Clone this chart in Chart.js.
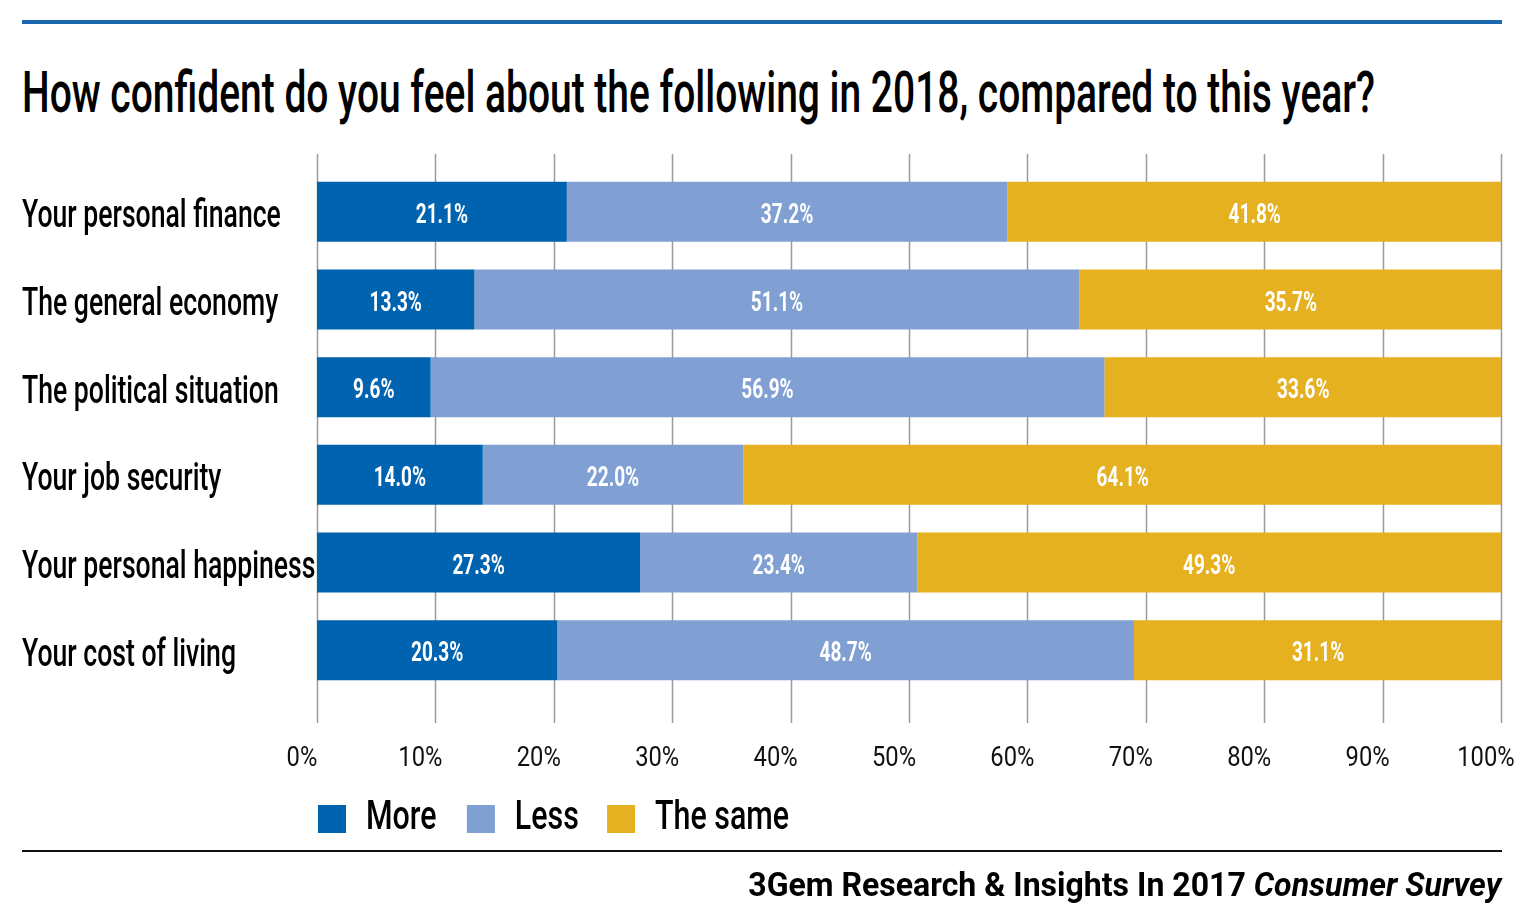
<!DOCTYPE html>
<html>
<head>
<meta charset="utf-8">
<script src="https://cdn.jsdelivr.net/npm/chart.js@4.4.1/dist/chart.umd.min.js"></script>
<style>
  html, body { margin:0; padding:0; background:#fff; }
  body { width:1535px; height:923px; position:relative; overflow:hidden; font-family: Roboto, "Liberation Sans", sans-serif; }
  #topRule { position:absolute; left:22px; top:20px; width:1480px; height:4px; background:#1a68b0; }
  #title { position:absolute; left:22px; top:63px; font-size:58px; line-height:58px; font-weight:500; color:#000; white-space:nowrap; transform-origin:0 0; }
  #bottomRule { position:absolute; left:22px; top:850px; width:1480px; height:2px; background:#111; }
  #source { position:absolute; right:34px; top:867px; font-size:34px; line-height:34px; font-weight:700; color:#000; white-space:nowrap; transform-origin:100% 0; }
  canvas { position:absolute; left:0; top:0; }
</style>
</head>
<body>
<div id="topRule"></div>
<div id="title">How confident do you feel about the following in 2018, compared to this year?</div>
<canvas id="c" width="1535" height="923"></canvas>
<div id="bottomRule"></div>
<div id="source">3Gem Research &amp; Insights In 2017 <i>Consumer Survey</i></div>
<script>
const categories = ["Your personal finance", "The general economy", "The political situation", "Your job security", "Your personal happiness", "Your cost of living"];
const seriesNames = ["More", "Less", "The same"];
const moreValues = [21.1, 13.3, 9.6, 14.0, 27.3, 20.3];
const lessValues = [37.2, 51.1, 56.9, 22.0, 23.4, 48.7];
const sameValues = [41.8, 35.7, 33.6, 64.1, 49.3, 31.1];
const xTicks = [0, 10, 20, 30, 40, 50, 60, 70, 80, 90, 100];
const colors = ["#0063af", "#809fd3", "#e5b121"];

function fitWidth(id, target) {
  const el = document.getElementById(id);
  el.style.transform = 'none';
  const w = el.getBoundingClientRect().width;
  el.style.transform = 'scaleX(' + (target / w) + ')';
}
fitWidth('title', 1353);
fitWidth('source', 753);
if (document.fonts && document.fonts.ready) document.fonts.ready.then(() => { fitWidth('title', 1353); fitWidth('source', 753); });

function condensed(ctx, factor, fn) {
  const orig = ctx.fillText;
  ctx.fillText = function (t, x, y) {
    this.save();
    this.translate(x, y);
    this.scale(factor, 1);
    orig.call(this, t, 0, 0);
    this.restore();
  };
  try { fn(); } finally { ctx.fillText = orig; }
}

const condensePlugin = {
  id: 'condense',
  afterLayout(chart) {
    const ctx = chart.ctx;
    const ys = chart.scales.y, xs = chart.scales.x;
    if (!ys._patched) {
      const o = ys.drawLabels;
      ys.drawLabels = function (a) { condensed(ctx, 0.70, () => o.call(this, a)); };
      ys._patched = true;
    }
    if (!xs._patched) {
      const o = xs.drawLabels;
      xs.drawLabels = function (a) { condensed(ctx, 0.88, () => o.call(this, a)); };
      xs._patched = true;
    }
    const lg = chart.legend;
    if (lg) {
      lg.left -= 7; lg.right -= 7;
      if (!lg._patched) {
        const o = lg.draw;
        lg.draw = function (a) { condensed(ctx, 0.76, () => o.call(this, a)); };
        lg._patched = true;
      }
    }
  }
};

const gridPlugin = {
  id: 'customGrid',
  beforeDatasetsDraw(chart) {
    const ctx = chart.ctx, xs = chart.scales.x;
    ctx.save();
    ctx.strokeStyle = '#9a9a9a';
    ctx.lineWidth = 1.5;
    xTicks.forEach(v => {
      const x = Math.round(xs.getPixelForValue(v)) + 0.5;
      ctx.beginPath();
      ctx.moveTo(x, 154);
      ctx.lineTo(x, 723);
      ctx.stroke();
    });
    ctx.restore();
  }
};

const labelPlugin = {
  id: 'barLabels',
  afterDatasetsDraw(chart) {
    const ctx = chart.ctx;
    ctx.save();
    ctx.fillStyle = '#fff';
    ctx.font = '700 28px Roboto, "Liberation Sans", sans-serif';
    ctx.textAlign = 'center';
    ctx.textBaseline = 'middle';
    chart.data.datasets.forEach((ds, di) => {
      const meta = chart.getDatasetMeta(di);
      meta.data.forEach((el, i) => {
        const c = el.getCenterPoint();
        const txt = ds.data[i].toFixed(1) + '%';
        ctx.save();
        ctx.translate(c.x, c.y + 4);
        ctx.scale(0.68, 1);
        ctx.fillText(txt, 0, 0);
        ctx.restore();
      });
    });
    ctx.restore();
  }
};

new Chart(document.getElementById('c'), {
  type: 'bar',
  data: {
    labels: categories,
    datasets: [
      { label: seriesNames[0], data: moreValues, backgroundColor: colors[0] },
      { label: seriesNames[1], data: lessValues, backgroundColor: colors[1] },
      { label: seriesNames[2], data: sameValues, backgroundColor: colors[2] }
    ]
  },
  options: {
    indexAxis: 'y',
    responsive: false,
    animation: false,
    devicePixelRatio: 1,
    layout: { padding: { left: 22, right: 34, top: 168, bottom: 74 } },
    datasets: { bar: { categoryPercentage: 1, barPercentage: 0.685, borderWidth: 0 } },
    scales: {
      x: {
        stacked: true, min: 0, max: 100,
        afterBuildTicks(s) { s.ticks = xTicks.map(v => ({ value: v })); },
        afterFit(s) { s.height = 97; s.paddingLeft = 0; s.paddingRight = 0; },
        grid: { display: false, drawTicks: false },
        border: { display: false },
        ticks: {
          padding: 49,
          labelOffset: -15,
          color: '#111',
          font: { family: 'Roboto, "Liberation Sans", sans-serif', size: 27 },
          callback: v => v + '%'
        }
      },
      y: {
        stacked: true,
        afterFit(s) { s.width = 295; s.paddingTop = 0; s.paddingBottom = 0; },
        grid: { display: false },
        border: { display: false },
        ticks: {
          crossAlign: 'far',
          padding: 0,
          labelOffset: 6,
          color: '#000',
          font: { family: 'Roboto, "Liberation Sans", sans-serif', size: 38, weight: '500' }
        }
      }
    },
    plugins: {
      legend: {
        position: 'bottom',
        align: 'start',
        fullSize: false,
        labels: {
          boxWidth: 28, boxHeight: 28, padding: 8,
          color: '#000',
          font: { family: 'Roboto, "Liberation Sans", sans-serif', size: 40, weight: '500' }
        }
      },
      tooltip: { enabled: false },
      title: { display: false }
    }
  },
  plugins: [condensePlugin, gridPlugin, labelPlugin]
});
</script>
</body>
</html>
